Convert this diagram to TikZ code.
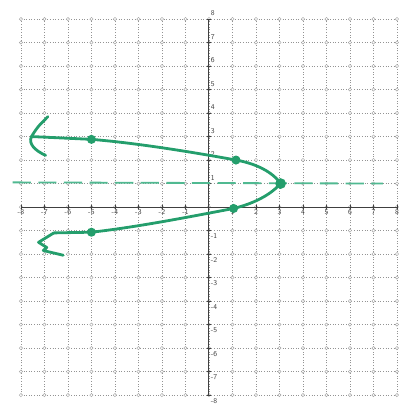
\documentclass[tikz,border=0pt]{standalone}
\definecolor{pen}{RGB}{36,158,108}
\definecolor{penlight}{RGB}{80,185,145}
\begin{document}
\begin{tikzpicture}[
 gridline/.style={gray!85, line width=0.9pt, dash pattern=on 1.2pt off 2pt},
 gridpt/.style={draw=gray!75, fill=white, line width=0.5pt},
 axis/.style={black!75, line width=1.1pt},
 lab/.style={font=\sffamily\small, text=black!75, inner sep=1pt},
 dot/.style={circle, fill=pen, minimum size=11pt, inner sep=0pt},
 curve/.style={pen, line width=3.4pt, line cap=round, line join=round},
 sym/.style={penlight, line width=2.2pt, dash pattern=on 22pt off 9pt}
]
\useasboundingbox (-8.89,-8.72) rectangle (8.13,8.81);
\foreach \i in {-8,...,8} {
  \draw[gridline] (\i,-8) -- (\i,8);
  \draw[gridline] (-8,\i) -- (8,\i);
}
\foreach \i in {-8,...,8} \foreach \j in {-8,...,8} \draw[gridpt] (\i,\j) circle (2pt);
\draw[axis] (-8,0) -- (8,0);
\draw[axis] (0,-8) -- (0,8);
\foreach \i in {-8,...,-1,1,2,...,8} {
  \draw[axis, line width=0.6pt] (\i,-0.1) -- (\i,0.1);
  \draw[axis, line width=0.6pt] (-0.1,\i) -- (0.1,\i);
  \node[lab, anchor=north] at (\i,-0.06) {\i};
}
\foreach \j in {1,...,8} \node[lab, anchor=west] at (0.04,\j+0.25) {\j};
\foreach \j in {-8,...,-1} \node[lab, anchor=west] at (0.04,\j-0.25) {\j};
% axis of symmetry
\draw[sym] (-8.35,1.05) -- (7.4,1.0);
% points
\node[dot, minimum size=13pt] (vtx) at (3.05,1.0) {};
\node[dot] (uA) at (1.15,2.0) {};
\node[dot] (uB) at (-5,2.88) {};
\node[dot] (lA) at (1.05,-0.06) {};
\node[dot] (lB) at (-5,-1.07) {};
\coordinate (tipU) at (-7.55,3.0);
\coordinate (endL) at (-6.6,-1.1);
% upper branch
\draw[curve] (vtx.center) .. controls (2.7,1.5) and (2.0,1.85) .. (uA.center)
  .. controls (-0.5,2.3) and (-3,2.72) .. (uB.center) -- (tipU);
\draw[curve] (-6.85,3.85) .. controls (-7.3,3.4) .. (tipU) .. controls (-7.7,2.7) and (-7.4,2.4) .. (-6.95,2.2);
% lower branch
\draw[curve] (vtx.center) .. controls (2.6,0.5) and (1.9,0.15) .. (lA.center)
  .. controls (-0.5,-0.35) and (-3,-0.85) .. (lB.center) -- (endL);
\draw[curve] (endL) -- (-7.25,-1.5) -- (-6.9,-1.72) -- (-7.05,-1.85) -- (-6.2,-2.05);
\end{tikzpicture}
\end{document}
